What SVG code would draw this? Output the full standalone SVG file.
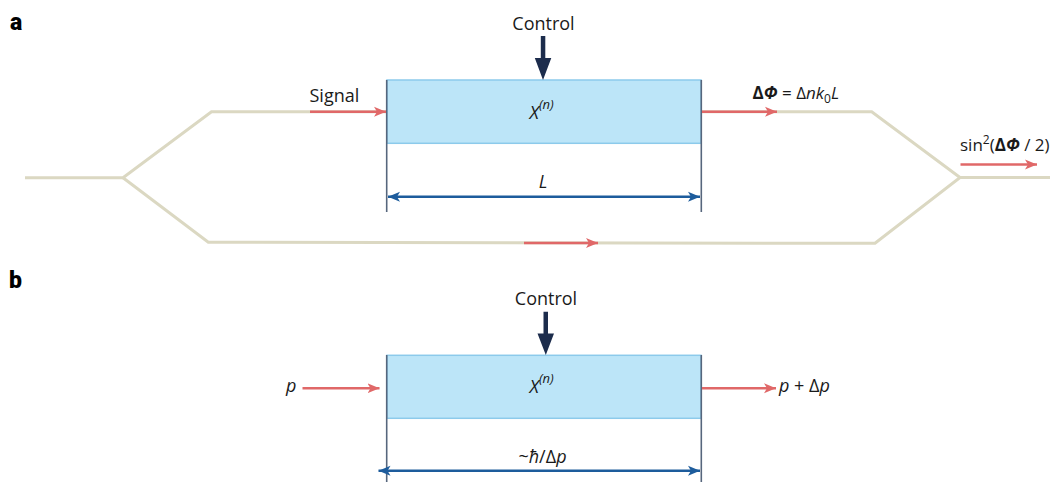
<svg xmlns="http://www.w3.org/2000/svg" width="1050" height="482" viewBox="0 0 1050 482">
<style>
.t{font-family:"Open Sans","Liberation Sans",sans-serif;fill:#1a1a1a;font-size:18px}
.s{font-size:17px}
.i{font-style:italic}
.lab{font-family:Roboto,"Liberation Sans",sans-serif;font-weight:900;font-size:23px;fill:#000}
.fiber{fill:none;stroke:#dbd8c2;stroke-width:3;stroke-linejoin:miter}
.red{stroke:#e06868;stroke-width:2.6;fill:none}
.dim{stroke:#1d5c9c;stroke-width:2.6;fill:none}
.box{fill:#bce5f8;stroke:#8ccaeb;stroke-width:1.5}
.vl{stroke:#56667d;stroke-width:1.6}
.ctrl{fill:#1c2c4c}
</style>
<defs>
<marker id="ra" markerUnits="userSpaceOnUse" markerWidth="14" markerHeight="12" refX="12" refY="6" orient="auto">
<path d="M0,1 L12,6 L0,11 L3,6 Z" fill="#e06868"/>
</marker>
<marker id="da" markerUnits="userSpaceOnUse" markerWidth="14" markerHeight="12" refX="12" refY="6" orient="auto-start-reverse">
<path d="M0,1 L12,6 L0,11 L3,6 Z" fill="#1d5c9c"/>
</marker>
</defs>
<text class="lab" x="10" y="30">a</text>
<text class="lab" x="9" y="288">b</text>
<g id="fiber">
<path class="fiber" d="M25,177.7 L123,177.7 L211.5,111.8 L387,111.8"/>
<path class="fiber" d="M123,177.7 L208.3,242.3 L875,243.3 L960,177.5 L1050,177.5"/>
<path class="fiber" d="M701,111.8 L871.7,111.8 L960,177.5"/>
</g>
<g id="modulatorA">
<rect class="box" x="387" y="80" width="314" height="63.3"/>
<text class="t i" x="529.5" y="118.5">X<tspan font-size="13" dy="-10" font-style="italic">(n)</tspan></text>
</g>
<g id="modulatorB">
<rect class="box" x="387" y="355.3" width="314" height="63"/>
<text class="t i" x="529.5" y="393">X<tspan font-size="13" dy="-10" font-style="italic">(n)</tspan></text>
</g>
<g id="connectors">
<line class="vl" x1="386.7" y1="80" x2="386.7" y2="212"/>
<line class="vl" x1="701.3" y1="80" x2="701.3" y2="212"/>
<line class="vl" x1="386.7" y1="355" x2="386.7" y2="482"/>
<line class="vl" x1="701.3" y1="355" x2="701.3" y2="482"/>
<line class="red" x1="310" y1="111.8" x2="386" y2="111.8" marker-end="url(#ra)"/>
<line class="red" x1="702" y1="111.8" x2="777" y2="111.8" marker-end="url(#ra)"/>
<line class="red" x1="524" y1="243" x2="598" y2="243" marker-end="url(#ra)"/>
<line class="red" x1="960.5" y1="164.5" x2="1037" y2="164.5" marker-end="url(#ra)"/>
<line class="red" x1="302.5" y1="388.3" x2="379.5" y2="388.3" marker-end="url(#ra)"/>
<line class="red" x1="702" y1="388.3" x2="776" y2="388.3" marker-end="url(#ra)"/>
<line class="dim" x1="388" y1="196.7" x2="700" y2="196.7" marker-start="url(#da)" marker-end="url(#da)"/>
<line class="dim" x1="378.5" y1="470.7" x2="700" y2="470.7" marker-start="url(#da)" marker-end="url(#da)"/>
<path class="ctrl" d="M540.8,36 L545.3,36 L545.3,58 L551.3,58 L543,80 L534.8,58 L540.8,58 Z"/>
<path class="ctrl" d="M543.5,311.7 L548,311.7 L548,333.5 L554,333.5 L545.8,355 L537.5,333.5 L543.5,333.5 Z"/>
</g>
<g id="labels">
<text class="t" x="543.5" y="29.5" text-anchor="middle">Control</text>
<text class="t" x="546" y="305" text-anchor="middle">Control</text>
<text class="t" x="309.5" y="101.7">Signal</text>
<text class="t i" x="543" y="188" text-anchor="middle">L</text>
<text class="t s" x="752.5" y="99.3"><tspan font-weight="bold">Δ</tspan><tspan font-weight="bold" font-style="italic">Φ</tspan> = Δ<tspan font-style="italic">nk</tspan><tspan font-size="12" dy="4">0</tspan><tspan dy="-4" font-style="italic">L</tspan></text>
<text class="t s" x="960" y="150.7">sin<tspan font-size="12" dy="-7">2</tspan><tspan dy="7">(</tspan><tspan font-weight="bold">Δ</tspan><tspan font-weight="bold" font-style="italic">Φ</tspan> / 2)</text>
<text class="t i" x="286" y="392">p</text>
<text class="t" x="779" y="392"><tspan font-style="italic">p</tspan> + Δ<tspan font-style="italic">p</tspan></text>
<text class="t" x="542.5" y="463.3" text-anchor="middle">~<tspan font-style="italic">ħ</tspan>/Δ<tspan font-style="italic">p</tspan></text>
</g>
</svg>
